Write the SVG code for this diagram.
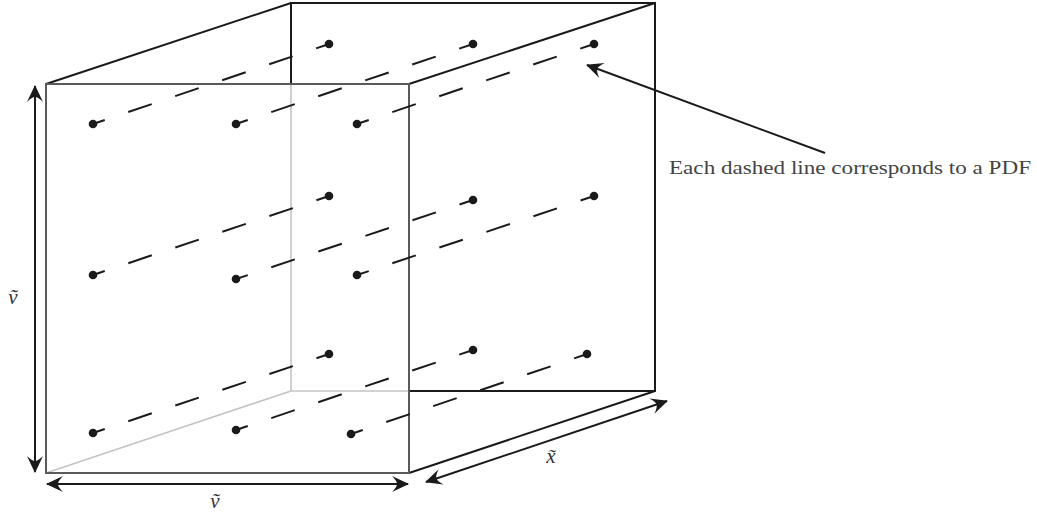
<svg xmlns="http://www.w3.org/2000/svg" width="1037" height="513" viewBox="0 0 1037 513">
<style>
.edge{stroke:#1a1a1a;stroke-width:2;fill:none;stroke-linecap:round}
.front{stroke:#5a5a5a;stroke-width:2;fill:none}
.hidden{stroke:#c4c4c4;stroke-width:1.6;fill:none}
.dash{stroke:#1a1a1a;stroke-width:2;fill:none;stroke-dasharray:24.8 24.8;stroke-dashoffset:12.4}
.dot{fill:#1a1a1a}
.arrow{stroke:#1a1a1a;stroke-width:2;fill:none;marker-start:url(#ah);marker-end:url(#ah)}
.arrow1{stroke:#1a1a1a;stroke-width:2;fill:none;marker-end:url(#ah)}
.math{font-family:"Liberation Serif","Times New Roman",serif;font-style:italic;font-size:21px;fill:#333}
.note{font-family:"Liberation Serif","Times New Roman",serif;font-size:19px;fill:#444}
</style>
<defs>
<marker id="ah" viewBox="-18 -10 20 20" refX="0" refY="0" markerWidth="20" markerHeight="20" orient="auto-start-reverse" markerUnits="userSpaceOnUse">
<path d="M1,0 L-16,-8 Q-11,-3 -11,0 Q-11,3 -16,8 Z" fill="#1a1a1a"/>
</marker>
</defs>
<g id="cube">
<path class="hidden" d="M291,84 L291,391 L409,391"/>
<path class="hidden" d="M46,473 L291,391"/>
<path class="edge" d="M291,84 L291,3 L655,3 L655,391 L409,391"/>
<path class="edge" d="M46,84 L291,3"/>
<path class="edge" d="M409,84 L655,3"/>
<path class="edge" d="M409,473 L655,391"/>
<rect class="front" x="46" y="84" width="363" height="389"/>
</g>
<g id="connectors">
<line class="dash" x1="93" y1="124" x2="329" y2="44"/>
<line class="dash" x1="236" y1="124" x2="473" y2="44"/>
<line class="dash" x1="357" y1="124" x2="594" y2="44"/>
<line class="dash" x1="93" y1="275" x2="329" y2="196"/>
<line class="dash" x1="236" y1="279" x2="473" y2="200"/>
<line class="dash" x1="357" y1="275" x2="594" y2="196"/>
<line class="dash" x1="93" y1="433" x2="329" y2="354"/>
<line class="dash" x1="236" y1="430" x2="473" y2="350"/>
<line class="dash" x1="351" y1="434" x2="587" y2="354"/>
<line class="arrow" x1="35" y1="86" x2="35" y2="472"/>
<line class="arrow" x1="47" y1="484" x2="408" y2="484"/>
<line class="arrow" x1="426" y1="482" x2="667" y2="401"/>
<line class="arrow1" x1="825" y1="153" x2="587" y2="65"/>
</g>
<g id="dots">
<circle class="dot" cx="93" cy="124" r="4.3"/>
<circle class="dot" cx="236" cy="124" r="4.3"/>
<circle class="dot" cx="357" cy="124" r="4.3"/>
<circle class="dot" cx="93" cy="275" r="4.3"/>
<circle class="dot" cx="236" cy="279" r="4.3"/>
<circle class="dot" cx="357" cy="275" r="4.3"/>
<circle class="dot" cx="93" cy="433" r="4.3"/>
<circle class="dot" cx="236" cy="430" r="4.3"/>
<circle class="dot" cx="351" cy="434" r="4.3"/>
<circle class="dot" cx="329" cy="44" r="4.3"/>
<circle class="dot" cx="473" cy="44" r="4.3"/>
<circle class="dot" cx="594" cy="44" r="4.3"/>
<circle class="dot" cx="329" cy="196" r="4.3"/>
<circle class="dot" cx="473" cy="200" r="4.3"/>
<circle class="dot" cx="594" cy="196" r="4.3"/>
<circle class="dot" cx="329" cy="354" r="4.3"/>
<circle class="dot" cx="473" cy="350" r="4.3"/>
<circle class="dot" cx="587" cy="354" r="4.3"/>
</g>
<g id="labels">
<text class="math" x="13" y="304" text-anchor="middle">ṽ</text>
<text class="math" x="215" y="508" text-anchor="middle">ṽ</text>
<text class="math" x="551" y="463" text-anchor="middle">x̃</text>
<text class="note" x="669" y="174" textLength="362" lengthAdjust="spacingAndGlyphs">Each dashed line corresponds to a PDF</text>
</g>
</svg>
